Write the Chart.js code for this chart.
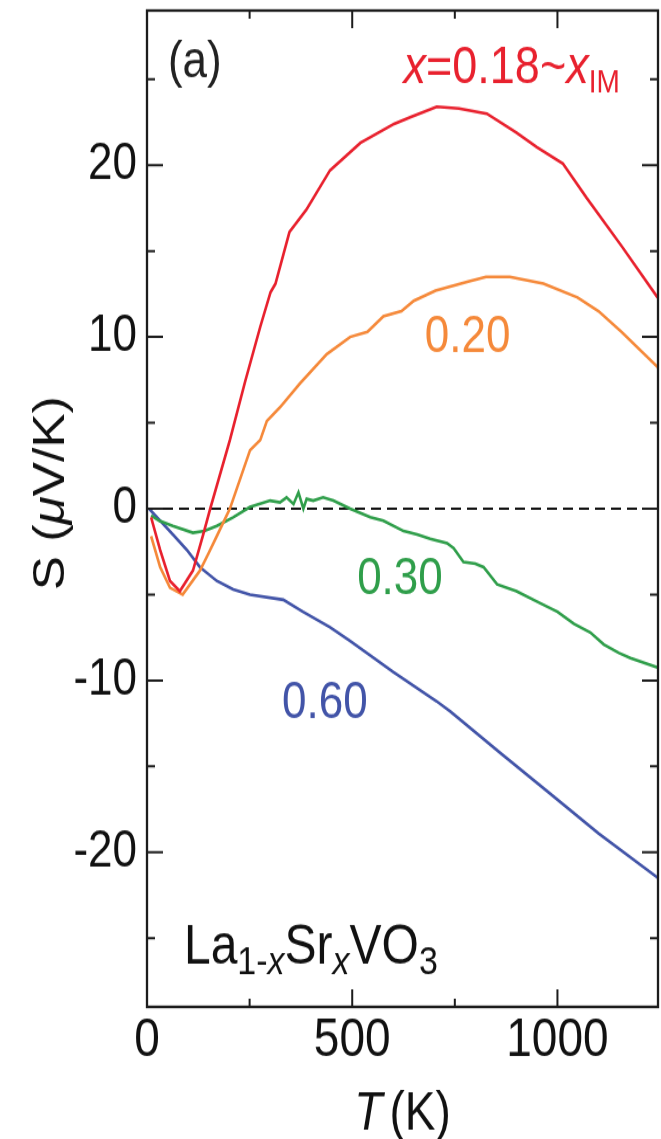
<!DOCTYPE html>
<html>
<head>
<meta charset="utf-8">
<script src="https://cdn.jsdelivr.net/npm/chart.js@4.4.1/dist/chart.umd.min.js"></script>
<style>
  html, body { margin: 0; padding: 0; background: #fff; }
  #outer { width: 661px; height: 1139px; overflow: hidden; position: relative; }
  /* the figure is a bit taller than wide in its glyphs, so stretch the whole canvas */
  #wrap { position: absolute; left: 0; top: 0; width: 661px; height: 974px; transform: scaleY(1.1694); transform-origin: 0 0; }
</style>
</head>
<body>
<div id="outer"><div id="wrap"><canvas id="myChart" width="661" height="974"></canvas></div></div>
<script>
// Seebeck coefficient S (uV/K) vs temperature T (K), La1-xSrxVO3
// x = 0.18 (red)
const redT = [10, 32, 56, 80, 112, 137, 154, 202, 239, 276, 301, 313, 347, 388, 446, 520, 602, 643, 706, 760, 828, 900, 950, 1013, 1071, 1156, 1244];
const redS = [-0.5, -2.4, -4.2, -4.8, -3.6, -1.5, 0, 4.0, 7.4, 10.6, 12.6, 13.1, 16.1, 17.4, 19.7, 21.3, 22.4, 22.8, 23.4, 23.3, 23.0, 21.9, 21.05, 20.1, 18.1, 15.3, 12.3];
// x = 0.20 (orange)
const orangeT = [10, 32, 56, 87, 129, 150, 170, 202, 251, 276, 292, 324, 373, 438, 495, 537, 576, 620, 650, 703, 780, 826, 884, 966, 1049, 1100, 1156, 1246];
const orangeS = [-1.6, -3.4, -4.6, -5.0, -3.6, -2.6, -1.6, 0, 3.4, 4.0, 5.1, 5.9, 7.3, 9.0, 10.0, 10.3, 11.2, 11.5, 12.1, 12.7, 13.2, 13.5, 13.5, 13.1, 12.3, 11.5, 10.3, 8.2];
// x = 0.30 (green)
const greenT = [10, 30, 63, 112, 140, 170, 210, 251, 300, 324, 340, 357, 369, 381, 389, 405, 429, 454, 495, 544, 576, 625, 658, 690, 731, 747, 771, 800, 820, 853, 900, 950, 1000, 1040, 1080, 1113, 1150, 1178, 1251];
const greenS = [-0.4, -0.7, -1.0, -1.4, -1.3, -1.0, -0.5, 0.1, 0.47, 0.37, 0.66, 0.27, 0.95, 0.0, 0.57, 0.47, 0.66, 0.47, 0, -0.5, -0.7, -1.3, -1.5, -1.75, -2.0, -2.3, -3.1, -3.2, -3.4, -4.4, -4.8, -5.4, -6.0, -6.7, -7.2, -7.9, -8.4, -8.7, -9.3];
// x = 0.60 (blue)
const blueT = [5, 63, 97, 129, 170, 210, 251, 332, 380, 446, 495, 600, 705, 739, 860, 983, 1100, 1251];
const blueS = [0, -1.5, -2.4, -3.4, -4.2, -4.7, -5.0, -5.3, -6.0, -6.9, -7.7, -9.5, -11.2, -11.8, -14.2, -16.6, -18.9, -21.6];
// S = 0 reference
const zeroT = [0, 1245];
const zeroS = [0, 0];

const xTickVals = [0, 250, 500, 750, 1000];
const yTickVals = [-25, -20, -15, -10, -5, 0, 5, 10, 15, 20, 25];

const FONT = "'Liberation Sans', Arial, Helvetica, sans-serif";
const RED = '#e8212e', ORANGE = '#f5893a', GREEN = '#2f9e4a', BLUE = '#4254a8';

function pts(xs, ys) {
  return xs.map((v, i) => ({x: v, y: ys[i]}));
}

// text labels placed in data coordinates (T, S) = left end / baseline
const notes = [
  {T: 51, S: 25.1, color: '#222', runs: [{t: '(a)', size: 44}]},
  {T: 625, S: 24.8, color: RED, runs: [
    {t: 'x', size: 45, italic: true},
    {t: '=0.18~', size: 45},
    {t: 'x', size: 45, italic: true},
    {t: 'IM', size: 28, dy: 8}
  ]},
  {T: 677, S: 9.15, color: ORANGE, runs: [{t: '0.20', size: 44}]},
  {T: 512, S: -4.96, color: GREEN, runs: [{t: '0.30', size: 44}]},
  {T: 329, S: -12.2, color: BLUE, runs: [{t: '0.60', size: 44}]},
  {T: 90, S: -26.45, color: '#111', runs: [
    {t: 'La', size: 48},
    {t: '1-', size: 34, dy: 9},
    {t: 'x', size: 34, dy: 9, italic: true},
    {t: 'Sr', size: 48},
    {t: 'x', size: 34, dy: 9, italic: true},
    {t: 'VO', size: 48},
    {t: '3', size: 34, dy: 9}
  ]}
];

function fontOf(r) {
  return (r.italic ? 'italic ' : '') + r.size + 'px ' + FONT;
}

function runsWidth(ctx, runs) {
  let w = 0;
  runs.forEach(r => { ctx.font = fontOf(r); w += ctx.measureText(r.t).width + (r.gap || 0); });
  return w;
}

function drawRuns(ctx, x, y, runs, color) {
  ctx.fillStyle = color;
  ctx.textAlign = 'left';
  ctx.textBaseline = 'alphabetic';
  let cx = x;
  runs.forEach(r => {
    ctx.font = fontOf(r);
    ctx.fillText(r.t, cx, y + (r.dy || 0));
    cx += ctx.measureText(r.t).width + (r.gap || 0);
  });
}

// frame, inward ticks on all four sides, text labels and axis titles
const framePlugin = {
  id: 'frame',
  afterDraw(chart) {
    const {ctx, chartArea: a, scales: {x, y}} = chart;
    ctx.save();
    ctx.strokeStyle = '#1c1c1c';
    ctx.lineWidth = 2.3;
    ctx.strokeRect(a.left, a.top, a.right - a.left, a.bottom - a.top);
    ctx.lineWidth = 2;
    ctx.beginPath();
    x.ticks.forEach(t => {
      const px = x.getPixelForValue(t.value);
      const len = t.value % 500 === 0 ? 15 : 7;
      ctx.moveTo(px, a.bottom); ctx.lineTo(px, a.bottom - len);
      ctx.moveTo(px, a.top); ctx.lineTo(px, a.top + len);
    });
    y.ticks.forEach(t => {
      const py = y.getPixelForValue(t.value);
      const len = t.value % 10 === 0 ? 16 : 8;
      ctx.moveTo(a.left, py); ctx.lineTo(a.left + len, py);
      ctx.moveTo(a.right, py); ctx.lineTo(a.right - len, py);
    });
    ctx.stroke();

    notes.forEach(n => {
      drawRuns(ctx, x.getPixelForValue(n.T), y.getPixelForValue(n.S), n.runs, n.color);
    });

    // x title: T (K)
    const xRuns = [{t: 'T', size: 46, italic: true, gap: 7}, {t: '(K)', size: 46}];
    const xw = runsWidth(ctx, xRuns);
    drawRuns(ctx, (a.left + a.right) / 2 - xw / 2, a.bottom + 105, xRuns, '#111');

    // y title: S (uV/K), rotated
    const yRuns = [{t: 'S (', size: 44}, {t: 'μ', size: 44, italic: true}, {t: 'V/K)', size: 44}];
    const yw = runsWidth(ctx, yRuns);
    ctx.save();
    ctx.translate(64, y.getPixelForValue(0.9));
    ctx.rotate(-Math.PI / 2);
    drawRuns(ctx, -yw / 2, 0, yRuns, '#111');
    ctx.restore();
    ctx.restore();
  }
};

const myChart = new Chart('myChart', {
  type: 'scatter',
  data: {
    datasets: [
      {data: pts(redT, redS), borderColor: RED},
      {data: pts(orangeT, orangeS), borderColor: ORANGE},
      {data: pts(greenT, greenS), borderColor: GREEN},
      {data: pts(blueT, blueS), borderColor: BLUE},
      {data: pts(zeroT, zeroS), borderColor: '#111', borderWidth: 2, borderDash: [10, 6]}
    ]
  },
  options: {
    responsive: false,
    animation: false,
    devicePixelRatio: 1,
    showLine: true,
    datasets: {
      scatter: {showLine: true, pointRadius: 0, borderWidth: 2.6, tension: 0, fill: false}
    },
    layout: {padding: {top: 9, right: 3, left: 0, bottom: 0}},
    plugins: {legend: {display: false}, tooltip: {enabled: false}},
    scales: {
      x: {
        type: 'linear', min: 0, max: 1245,
        border: {display: false},
        grid: {display: false, drawTicks: false},
        afterBuildTicks: s => { s.ticks = xTickVals.map(v => ({value: v})); },
        afterFit: s => { s.height = 113; s.paddingLeft = 0; s.paddingRight = 0; },
        ticks: {
          padding: 2, color: '#111', autoSkip: false, maxRotation: 0,
          font: {family: FONT, size: 46},
          callback: v => (v % 500 === 0 ? String(v) : '')
        }
      },
      y: {
        type: 'linear', min: -29, max: 29,
        border: {display: false},
        grid: {display: false, drawTicks: false},
        afterBuildTicks: s => { s.ticks = yTickVals.map(v => ({value: v})); },
        afterFit: s => { s.width = 147; s.paddingTop = 0; s.paddingBottom = 0; },
        ticks: {
          padding: 10, color: '#111', autoSkip: false,
          font: {family: FONT, size: 44},
          callback: v => (v % 10 === 0 ? String(v) : '')
        }
      }
    }
  },
  plugins: [framePlugin]
});
</script>
</body>
</html>
